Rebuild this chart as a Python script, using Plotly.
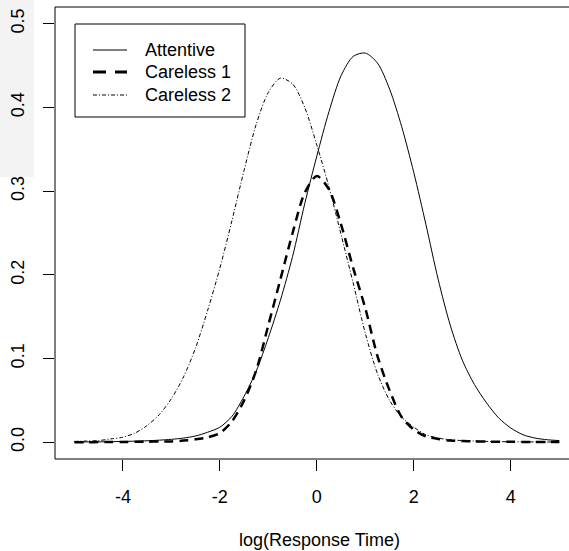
import plotly.graph_objects as go

# x grid (log response time)
x_vals = [-5.0, -4.75, -4.5, -4.25, -4.0, -3.75, -3.5, -3.25, -3.0, -2.75, -2.5, -2.25,
          -2.0, -1.75, -1.5, -1.25, -1.0, -0.75, -0.5, -0.25, 0.0, 0.25, 0.5, 0.75,
          1.0, 1.25, 1.5, 1.75, 2.0, 2.25, 2.5, 2.75, 3.0, 3.25, 3.5, 3.75, 4.0,
          4.25, 4.5, 4.75, 5.0]

attentive = [0.0003, 0.0004, 0.0005, 0.0007, 0.001, 0.0013, 0.0018, 0.0025, 0.0035, 0.005,
             0.0075, 0.012, 0.018, 0.031, 0.055, 0.085, 0.125, 0.17, 0.222, 0.285, 0.342,
             0.395, 0.438, 0.461, 0.465, 0.453, 0.422, 0.377, 0.322, 0.26, 0.195, 0.14,
             0.098, 0.069, 0.047, 0.029, 0.017, 0.009, 0.005, 0.003, 0.002]

careless1 = [0.0, 0.0001, 0.0002, 0.0003, 0.0004, 0.0005, 0.0007, 0.0009, 0.001, 0.002,
             0.0035, 0.006, 0.011, 0.025, 0.05, 0.086, 0.14, 0.195, 0.25, 0.298, 0.318,
             0.302, 0.26, 0.208, 0.16, 0.103, 0.062, 0.03, 0.015, 0.007, 0.004, 0.002,
             0.0015, 0.001, 0.0008, 0.0006, 0.0005, 0.0004, 0.0003, 0.0002, 0.0002]

careless2 = [0.001, 0.0015, 0.002, 0.004, 0.006, 0.011, 0.02, 0.033, 0.052, 0.078,
             0.113, 0.158, 0.208, 0.265, 0.325, 0.38, 0.418, 0.435, 0.428, 0.40, 0.355,
             0.305, 0.248, 0.19, 0.13, 0.082, 0.05, 0.03, 0.018, 0.009, 0.005, 0.003,
             0.002, 0.0015, 0.001, 0.0008, 0.0006, 0.0005, 0.0004, 0.0003, 0.0002]

series_names = ["Attentive", "Careless 1", "Careless 2"]
x_ticks = [-4, -2, 0, 2, 4]
x_ticktext = ["-4", "-2", "0", "2", "4"]
y_ticks = [0.0, 0.1, 0.2, 0.3, 0.4, 0.5]
x_title = "log(Response Time)"

FONT = "Liberation Sans, Arial, sans-serif"
FS = 18

styles = [
    dict(color="black", width=1),
    dict(color="black", width=2.5, dash="9px,6px"),
    dict(color="black", width=1, dash="4px,2px,1px,2px"),
]
legend_styles = [
    dict(color="black", width=1),
    dict(color="black", width=3, dash="13px,9px"),
    dict(color="black", width=1, dash="4px,2px,1px,2px"),
]

fig = go.Figure()
for name, ys, st in zip(series_names, [attentive, careless1, careless2], styles):
    fig.add_trace(go.Scatter(x=x_vals, y=ys, mode="lines", name=name,
                             line=dict(shape="spline", smoothing=0.8, **st)))

# plot area geometry (pixels) for the hand-drawn R-style legend
L, T, W, H = 55, 7, 514, 452
def px(xp):
    return (xp - L) / W
def py(yp):
    return 1 - (yp - T) / H

shapes = [
    dict(type="rect", xref="paper", yref="paper", x0=px(0), x1=px(34),
         y0=py(0), y1=py(177), fillcolor="#f3f3f3", line=dict(width=0), layer="below"),
    dict(type="line", xref="paper", yref="paper", x0=0, x1=1, y0=1, y1=1,
         line=dict(color="black", width=1)),
    dict(type="line", xref="paper", yref="paper", x0=0, x1=0, y0=0, y1=1,
         line=dict(color="black", width=1)),
    dict(type="line", xref="paper", yref="paper", x0=0, x1=1, y0=0, y1=0,
         line=dict(color="black", width=1)),
    dict(type="rect", xref="paper", yref="paper", x0=px(75), x1=px(245),
         y0=py(117), y1=py(24), fillcolor="white", line=dict(color="black", width=1)),
]
annotations = [
    dict(text=x_title, xref="x", yref="paper", x=0.05, y=py(540), xanchor="center",
         yanchor="middle", showarrow=False, font=dict(family=FONT, size=FS, color="black")),
]
legend_rows = [50, 72, 95]
for name, st, yrow in zip(series_names, legend_styles, legend_rows):
    shapes.append(dict(type="line", xref="paper", yref="paper", x0=px(93), x1=px(127),
                       y0=py(yrow), y1=py(yrow), line=st))
    annotations.append(dict(text=name, xref="paper", yref="paper", x=px(143), y=py(yrow),
                            xanchor="left", yanchor="middle", showarrow=False,
                            font=dict(family=FONT, size=FS, color="black")))

fig.update_layout(
    width=569, height=551,
    margin=dict(l=L, r=0, t=T, b=551 - T - H),
    paper_bgcolor="white", plot_bgcolor="white",
    font=dict(family=FONT, size=FS, color="black"),
    showlegend=False,
    xaxis=dict(range=[-5.4, 5.2], tickvals=x_ticks, ticktext=x_ticktext, ticks="outside",
               ticklen=11, tickwidth=1, tickcolor="black", showgrid=False, zeroline=False,
               showline=False, ticklabelstandoff=10,
               tickfont=dict(family=FONT, size=FS, color="black")),
    yaxis=dict(range=[-0.02, 0.52], tickvals=y_ticks, tickformat=".1f", ticks="outside",
               ticklen=11, tickwidth=1, tickcolor="black", showgrid=False,
               zeroline=False, showline=False, tickangle=-90, ticklabelstandoff=12,
               tickfont=dict(family=FONT, size=FS, color="black")),
    shapes=shapes,
    annotations=annotations,
)

fig.write_html("out.html", config={"displayModeBar": False},
               post_script="document.body.style.margin='0';document.body.style.overflow='hidden';")
